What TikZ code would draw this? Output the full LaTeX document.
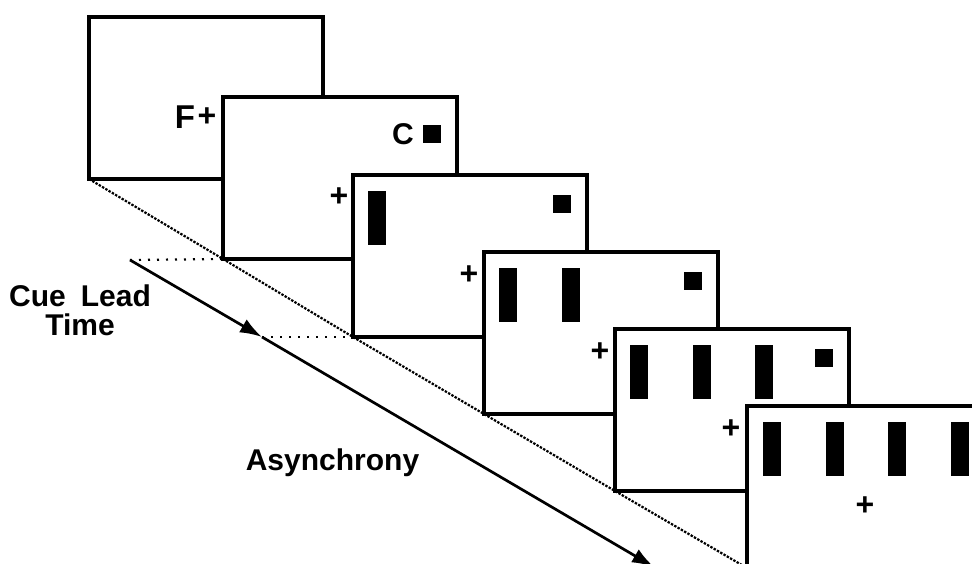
\documentclass[tikz,border=0pt]{standalone}
\usepackage{fontspec}
\setmainfont{Liberation Sans}
\usetikzlibrary{arrows.meta}
\begin{document}
\begin{tikzpicture}[x=1pt,y=-1pt,
  screen/.style={draw,fill=white,line width=3.3pt,rectangle,
    minimum width=234pt,minimum height=162pt,anchor=north west,
    outer sep=0pt,inner sep=0pt},
  bar/.style={fill=black},
  diag/.style={line width=2.2pt,dash pattern=on 2.4pt off 1.4pt},
  guide/.style={line width=2.2pt,dash pattern=on 2pt off 7pt},
  lbl/.style={font=\bfseries\fontsize{30}{29}\selectfont,inner sep=0pt},
  fix/.style={font=\bfseries\fontsize{32}{34}\selectfont,inner sep=0pt},
  timeline/.style={line width=2.7pt},
  tip/.style={-{Latex[length=22pt,width=15pt]}},
]
\useasboundingbox (0,0) rectangle (972,564);
\clip (0,0) rectangle (972,564);

% first display: fixation cross with the F label
\node[screen] (f1) at (89,17) {};
\node[lbl,font=\bfseries\fontsize{33}{34}\selectfont] (fl) at (185,117.5) {F};
\node[fix] (p1) at (207,117) {+};

% second display: cue
\node[screen] (f2) at (223,97) {};
\begin{scope}[shift={(f2.north west)}]
  \node[lbl] (cl) at (180,37) {C};
  \fill[bar] (200,28) rectangle ++(18,18);
  \node[fix] (p2) at (116,100) {+};
\end{scope}

% displays with an increasing number of bars
\node[screen] (f3) at (353,175) {};
\begin{scope}[shift={(f3.north west)}]
  \fill[bar] (15,16) rectangle ++(18,54);
  \fill[bar] (200,20) rectangle ++(18,18);
  \node[fix] (p3) at (116,100) {+};
\end{scope}

\node[screen] (f4) at (484,252) {};
\begin{scope}[shift={(f4.north west)}]
  \foreach \k in {0,1} \fill[bar] (15+62.5*\k,16) rectangle ++(18,54);
  \fill[bar] (200,20) rectangle ++(18,18);
  \node[fix] (p4) at (116,100) {+};
\end{scope}

\node[screen] (f5) at (615,329) {};
\begin{scope}[shift={(f5.north west)}]
  \foreach \k in {0,1,2} \fill[bar] (15+62.5*\k,16) rectangle ++(18,54);
  \fill[bar] (200,20) rectangle ++(18,18);
  \node[fix] (p5) at (116,100) {+};
\end{scope}

\node[screen] (f6) at (747,406) {};
\begin{scope}[shift={(f6.north west)}]
  \foreach \k in {0,1,2,3} \fill[bar] (16+62.5*\k,16) rectangle ++(18,54);
  \node[fix] (p6) at (118,100) {+};
\end{scope}

% line through the lower left corners of the displays
\draw[diag] (f1.south west) -- (f2.south west) -- (f3.south west)
  -- (f4.south west) -- (f5.south west) -- (f6.south west);

% time axis
\coordinate (a0) at (130,260);
\coordinate (a1) at (262,337);
\coordinate (a2) at (654,567);
\draw[timeline,tip] (a0) -- (a1);
\draw[timeline,tip] (a1) -- (a2);
\draw[guide] (a0) -- (f2.south west);
\draw[guide] (a1) -- (f3.south west);

% labels
\node[lbl,align=center,anchor=north] (clt) at (80,285) {Cue\hspace{0.5em}Lead\\Time};
\node[lbl,anchor=base] (asy) at (332.5,470) {Asynchrony};
\end{tikzpicture}
\end{document}
